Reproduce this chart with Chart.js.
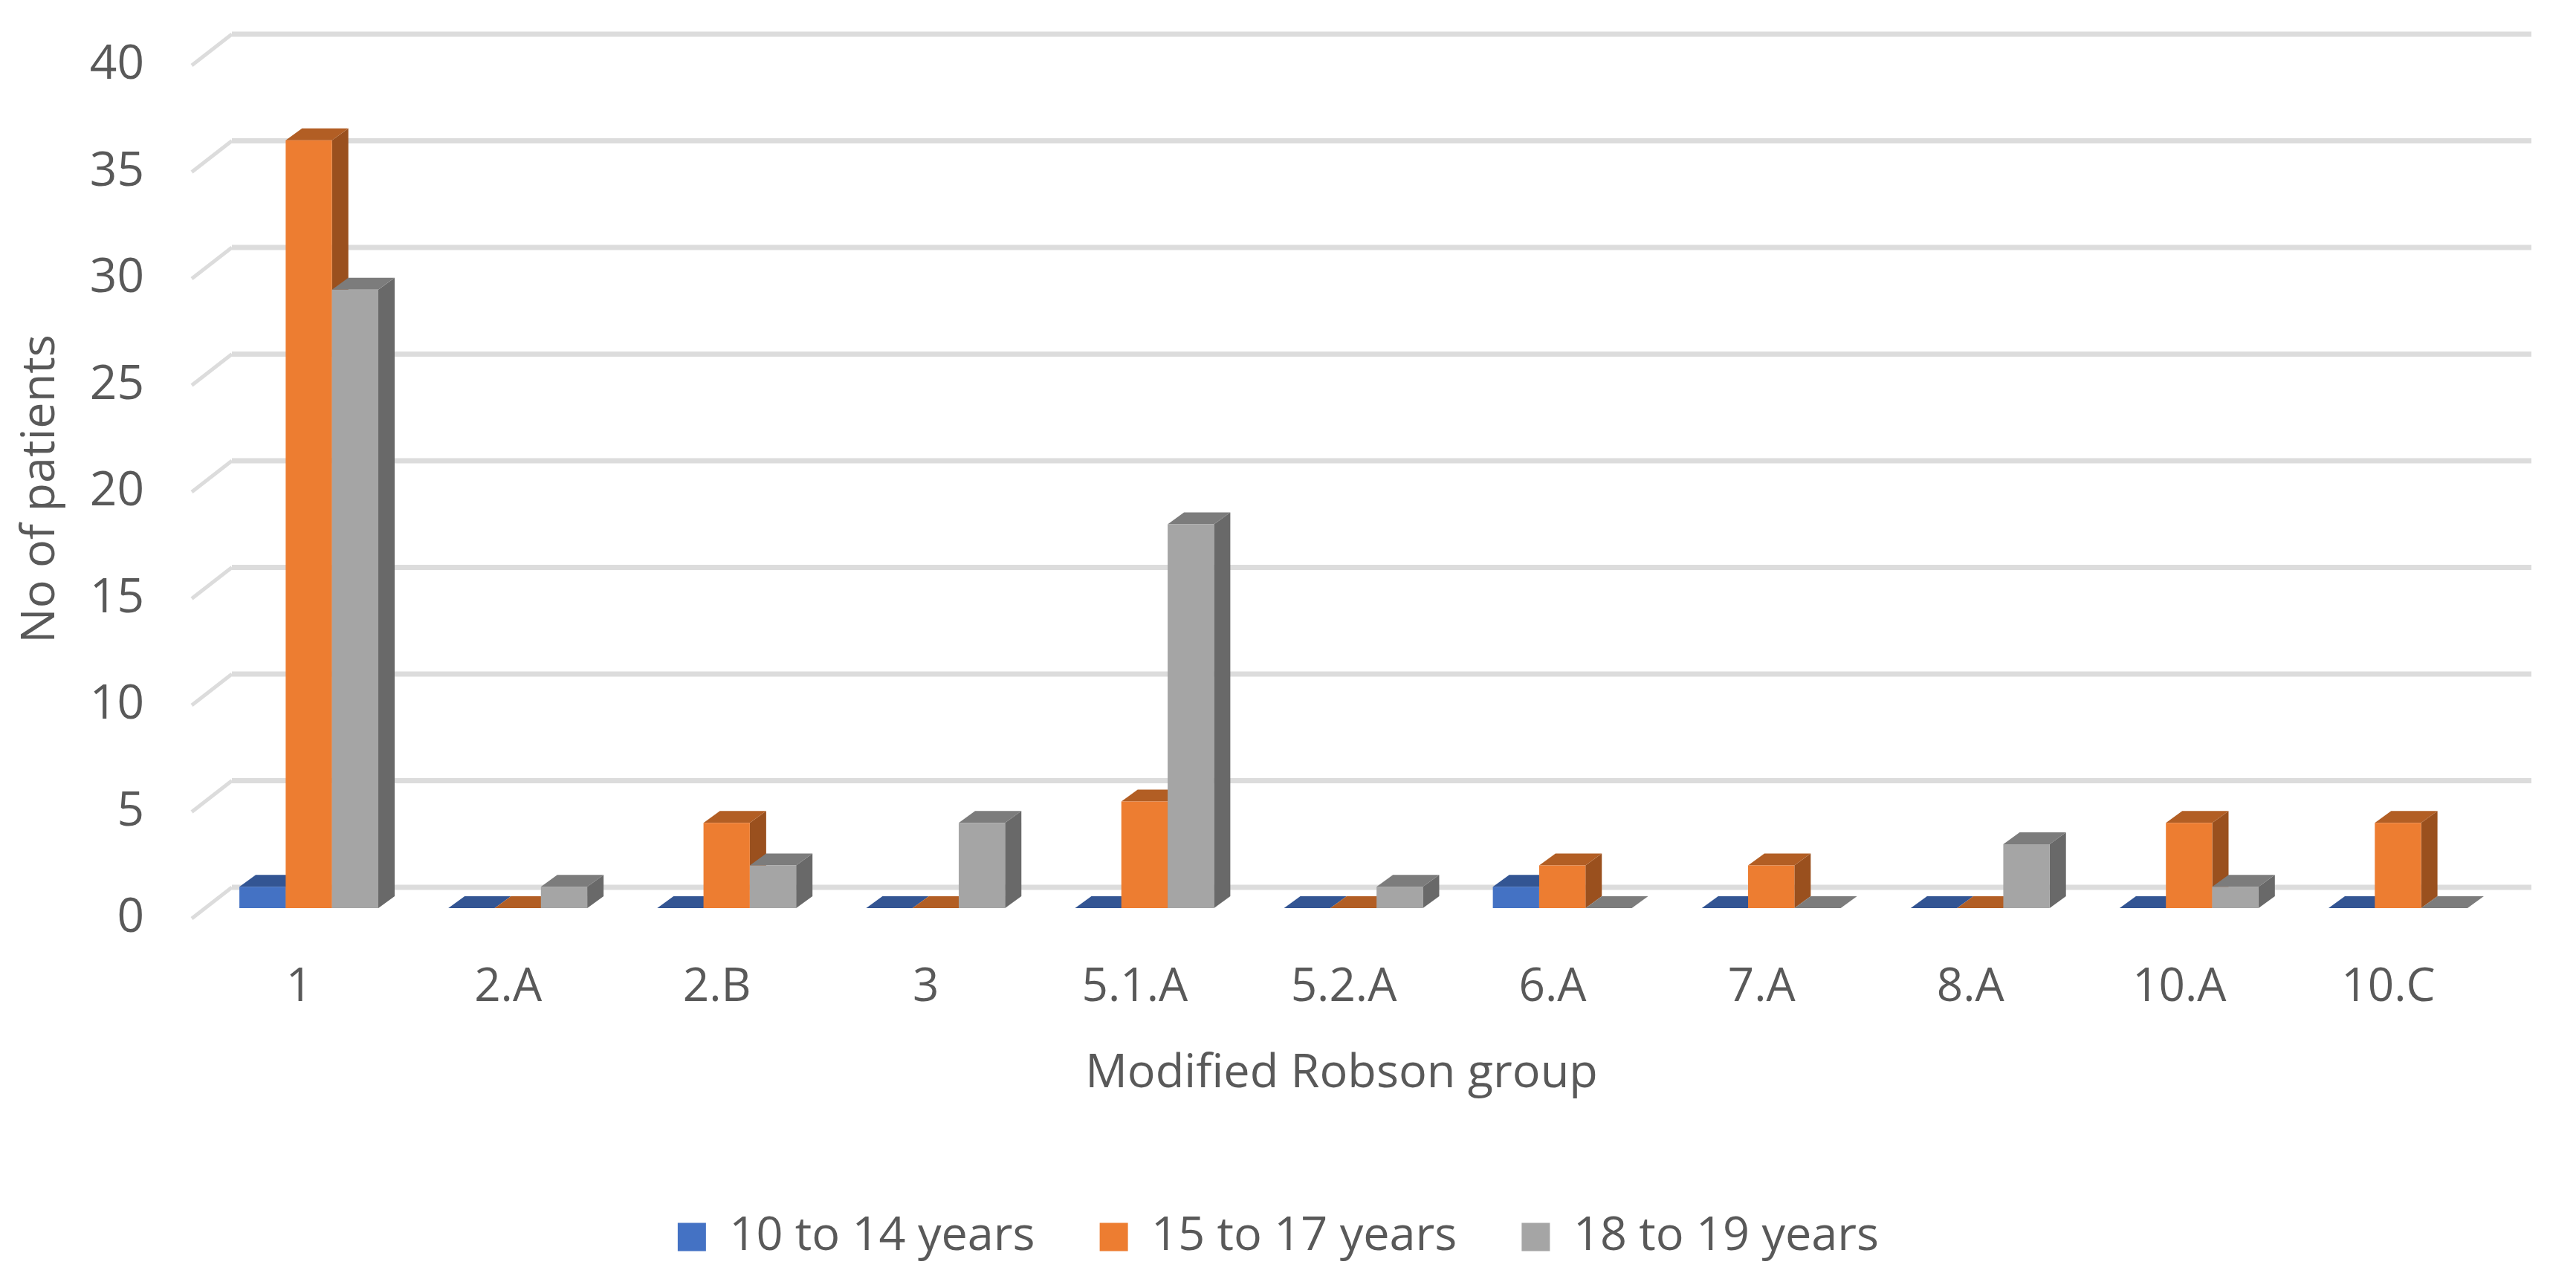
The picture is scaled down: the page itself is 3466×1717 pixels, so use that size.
<!DOCTYPE html>
<html>
<head>
<meta charset="utf-8">
<title>Modified Robson group</title>
<script src="https://cdn.jsdelivr.net/npm/chart.js@4"></script>
<style>
  html, body { margin: 0; padding: 0; background: #fff; }
  canvas { display: block; }
</style>
</head>
<body>
<canvas id="robsonChart" width="3466" height="1717"></canvas>
<script>
const groups = ['1', '2.A', '2.B', '3', '5.1.A', '5.2.A', '6.A', '7.A', '8.A', '10.A', '10.C'];
const yTicks = [0, 5, 10, 15, 20, 25, 30, 35, 40];
const years10to14 = [1, 0, 0, 0, 0, 0, 1, 0, 0, 0, 0];
const years15to17 = [36, 0, 4, 0, 5, 0, 2, 2, 0, 4, 4];
const years18to19 = [29, 1, 2, 4, 18, 1, 0, 0, 3, 1, 0];

const textColor = '#595959';
const fontName = '"Open Sans", sans-serif';
const gridColor = '#dcdcdc';

// front, top and side colours of each series
const blueFaces = { front: '#4472c4', top: '#335593', side: '#2c4a80' };
const orangeFaces = { front: '#ed7d31', top: '#b25e24', side: '#9a501e' };
const grayFaces = { front: '#a5a5a5', top: '#7c7c7c', side: '#696969' };

// fake 3D depth, the real chart is an Excel 3D column
const barDepthX = 22;
const barDepthY = 16;

function polygon(ctx, color, points) {
    ctx.fillStyle = color;
    ctx.beginPath();
    points.forEach((p, i) => i ? ctx.lineTo(p[0], p[1]) : ctx.moveTo(p[0], p[1]));
    ctx.closePath();
    ctx.fill();
}

// axis titles are not centred on the plot in the original
function nudgeTitle(scale, dx, dy) {
    const drawTitle = scale.drawTitle;
    scale.drawTitle = function () {
        this.ctx.save();
        this.ctx.translate(dx, dy);
        drawTitle.call(this);
        this.ctx.restore();
    };
}

const wallPlugin = {
    id: 'wall3d',
    afterLayout(chart) {
        chart.legend.left += 28;
        chart.legend.right += 28;
        nudgeTitle(chart.scales.x, -16, 0);
        nudgeTitle(chart.scales.y, 0, 10);
    },
    beforeDatasetsDraw(chart) {
        const ctx = chart.ctx;
        const y = chart.scales.y;
        const area = chart.chartArea;

        // gridlines sit on the back wall, with a slanted bit on the left wall
        ctx.save();
        ctx.strokeStyle = gridColor;
        ctx.lineJoin = 'miter';
        y.ticks.forEach(tick => {
            const py = y.getPixelForValue(tick.value);
            ctx.lineWidth = 7;
            ctx.beginPath();
            ctx.moveTo(area.left + 37, py - 28);
            ctx.lineTo(area.right + 39, py - 28);
            ctx.stroke();
            ctx.lineWidth = 5;
            ctx.beginPath();
            ctx.moveTo(area.left - 17, py + 14);
            ctx.lineTo(area.left + 37, py - 28);
            ctx.stroke();
        });

        // bars go left to right so every column hides the side of the one before
        chart.data.datasets.forEach((ds, i) => {
            const meta = chart.getDatasetMeta(i);
            meta.data.forEach(bar => {
                const left = bar.x - bar.width / 2;
                const right = bar.x + bar.width / 2;
                polygon(ctx, ds.faces.side, [
                    [right, bar.y], [right + barDepthX, bar.y - barDepthY],
                    [right + barDepthX, bar.base - barDepthY], [right, bar.base]
                ]);
                polygon(ctx, ds.faces.top, [
                    [left, bar.y], [left + barDepthX, bar.y - barDepthY],
                    [right + barDepthX, bar.y - barDepthY], [right, bar.y]
                ]);
            });
            meta.controller.draw();
        });
        ctx.restore();
    },
    beforeDatasetDraw() {
        return false; // already painted above
    }
};

new Chart(document.getElementById('robsonChart').getContext('2d'), {
    type: 'bar',
    data: {
        labels: groups,
        datasets: [
            { label: '10 to 14 years', data: years10to14, backgroundColor: blueFaces.front, faces: blueFaces },
            { label: '15 to 17 years', data: years15to17, backgroundColor: orangeFaces.front, faces: orangeFaces },
            { label: '18 to 19 years', data: years18to19, backgroundColor: grayFaces.front, faces: grayFaces }
        ]
    },
    plugins: [wallPlugin],
    options: {
        responsive: false,
        devicePixelRatio: 1,
        animation: false,
        layout: { padding: { left: 17, right: 99, top: 74, bottom: 11 } },
        datasets: { bar: { categoryPercentage: 0.665, barPercentage: 1 } },
        scales: {
            x: {
                afterFit(axis) { axis.height = 324; },
                grid: { display: false, drawTicks: false },
                border: { display: false },
                ticks: {
                    color: textColor,
                    font: { family: fontName, size: 62 },
                    padding: 70,
                    labelOffset: -13,
                    maxRotation: 0
                },
                title: {
                    display: true,
                    text: 'Modified Robson group',
                    color: textColor,
                    font: { family: fontName, size: 63 },
                    padding: { top: 0, bottom: 63 }
                }
            },
            y: {
                min: 0,
                max: 40,
                afterFit(axis) {
                    axis.width = 258;
                    // tick padding would otherwise be reserved above the plot
                    axis.paddingTop = 0;
                    axis.paddingBottom = 0;
                },
                afterBuildTicks(axis) {
                    axis.ticks = yTicks.map(v => ({ value: v }));
                },
                grid: { display: false, drawTicks: false },
                border: { display: false },
                ticks: {
                    color: textColor,
                    font: { family: fontName, size: 64 },
                    padding: 81,
                    labelOffset: 14
                },
                title: {
                    display: true,
                    text: 'No of patients',
                    color: textColor,
                    font: { family: fontName, size: 63 },
                    padding: { top: 0, bottom: 0 }
                }
            }
        },
        plugins: {
            tooltip: { enabled: false },
            legend: {
                position: 'bottom',
                labels: {
                    color: textColor,
                    font: { family: fontName, size: 63 },
                    boxWidth: 38,
                    boxHeight: 38,
                    padding: 87
                }
            }
        }
    }
});
</script>
</body>
</html>
